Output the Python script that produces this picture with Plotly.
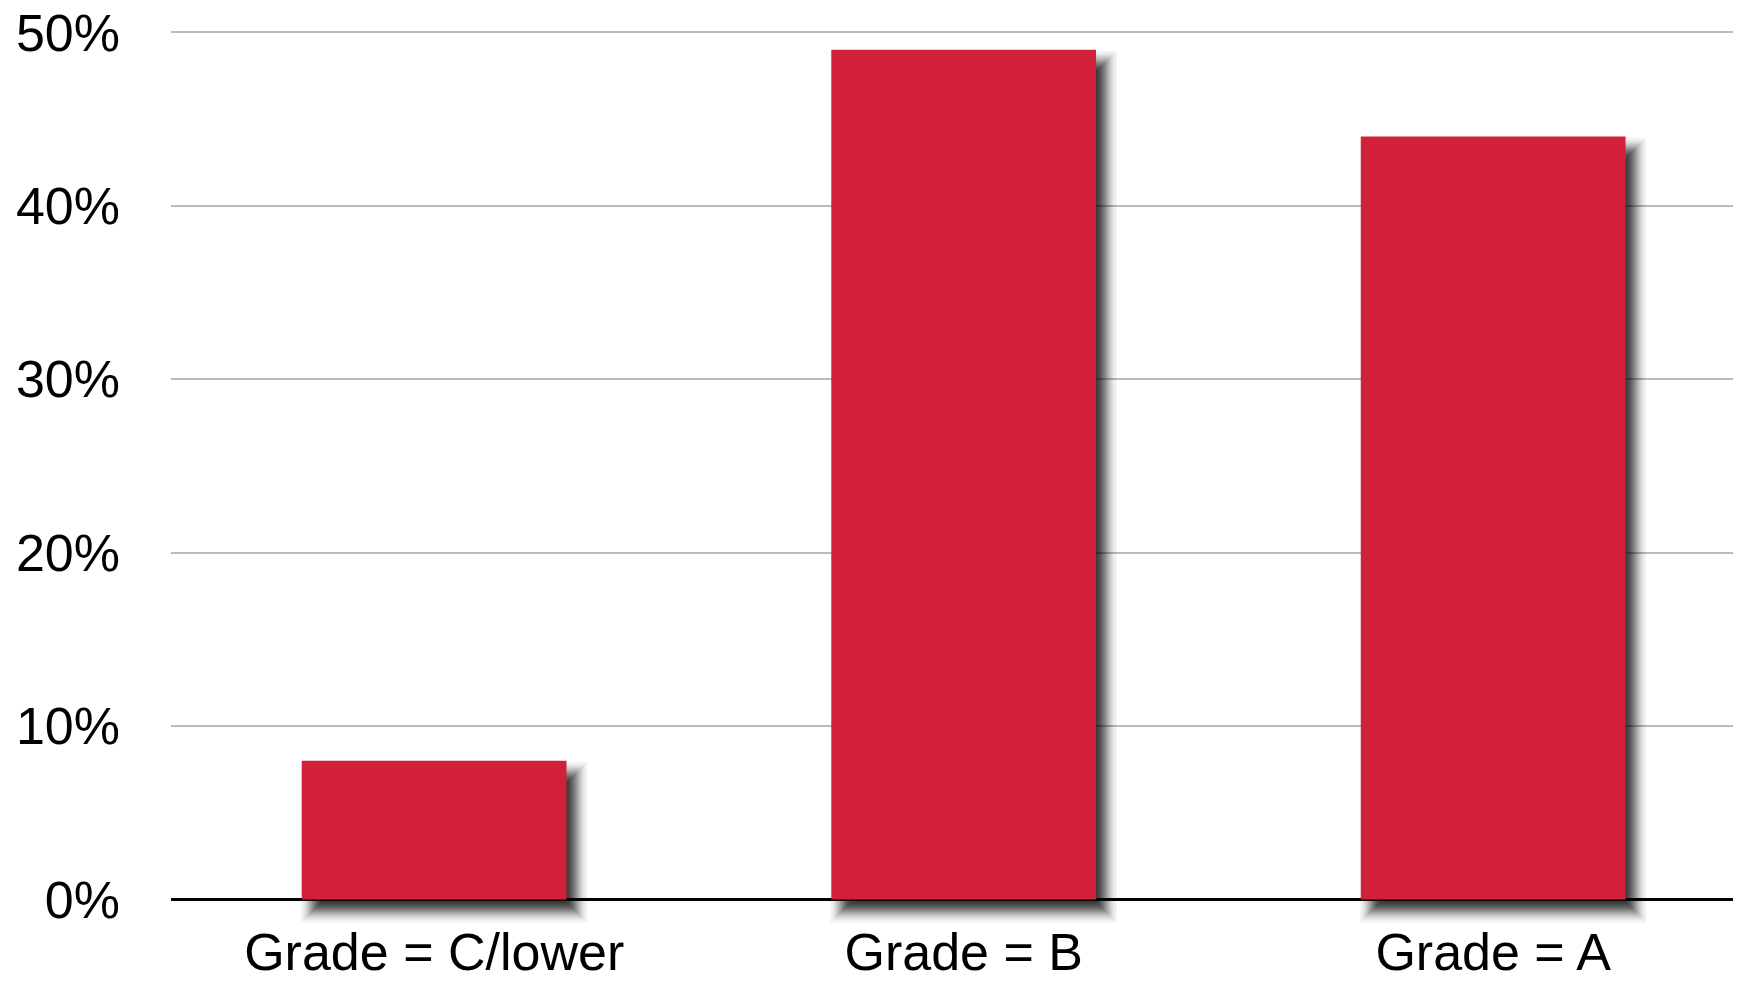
import plotly.graph_objects as go
from statistics import NormalDist

# ---- data ----
categories = ["Grade = C/lower", "Grade = B", "Grade = A"]
values = [8, 49, 44]  # percent
y_tick_values = [0, 10, 20, 30, 40, 50]
y_tick_labels = ["0%", "10%", "20%", "30%", "40%", "50%"]

# ---- layout constants (page body has an 8px margin) ----
W, H = 1733, 973
ML, MR, MT, MB = 163, 0, 7, 12
XR = [-0.497, 2.468]
YR = [-4, 51]
px_x = (W - ML - MR) / (XR[1] - XR[0])
px_y = (H - MT - MB) / (YR[1] - YR[0])

BAR_W = 0.5
BAR_COLOR = "#D3203A"
FONT = "Helvetica, 'Liberation Sans', Arial, sans-serif"
FS = 52

# soft drop-shadow approximation: stacked translucent bars (gaussian-like)
SH_DX, SH_DY, SH_SIGMA, SH_MAX = 10, 12, 7, 0.8
N_LAYERS = 30
SH_ALPHA = 1 - (1 - 0.78) ** (1 / N_LAYERS)
nd = NormalDist()
expansions = []
for j in range(1, N_LAYERS + 1):
    target = min((1 - (1 - SH_ALPHA) ** j) / SH_MAX, 0.999)
    expansions.append(-SH_SIGMA * nd.inv_cdf(target))

xs = list(range(len(categories)))
fig = go.Figure()
for e in expansions:
    fig.add_trace(go.Bar(
        x=xs,
        y=[v + 2 * e / px_y for v in values],
        base=-(SH_DY + e) / px_y,
        width=BAR_W + 2 * e / px_x,
        offset=-BAR_W / 2 + (SH_DX - e) / px_x,
        marker=dict(color=f"rgba(0,0,0,{SH_ALPHA:.4f})", line=dict(width=0)),
        hoverinfo="skip", showlegend=False,
    ))

fig.add_trace(go.Bar(
    x=xs, y=values, width=BAR_W,
    marker=dict(color=BAR_COLOR, line=dict(width=0)),
    showlegend=False,
))

fig.update_layout(
    width=W, height=H,
    margin=dict(l=ML, r=MR, t=MT, b=MB, pad=0, autoexpand=False),
    paper_bgcolor="white", plot_bgcolor="white",
    barmode="overlay",
    font=dict(family=FONT, size=FS, color="black"),
    showlegend=False,
    xaxis=dict(
        range=XR,
        tickvals=xs, ticktext=categories,
        anchor="free", position=(0 - YR[0]) / (YR[1] - YR[0]),
        showgrid=False, zeroline=False, showline=False, ticks="",
        tickfont=dict(size=FS, family=FONT, color="black"),
        ticklabelstandoff=17,
        ticklabeloverflow="allow",
        automargin=False,
    ),
    yaxis=dict(
        range=YR,
        tickvals=y_tick_values, ticktext=y_tick_labels,
        showgrid=True, gridcolor="#BBBBBB", gridwidth=2,
        zeroline=True, zerolinecolor="black", zerolinewidth=3,
        showline=False, ticks="",
        tickfont=dict(size=FS, family=FONT, color="black"),
        ticklabelstandoff=50,
        ticklabeloverflow="allow",
        automargin=False,
    ),
)

fig.write_html("out.html")
